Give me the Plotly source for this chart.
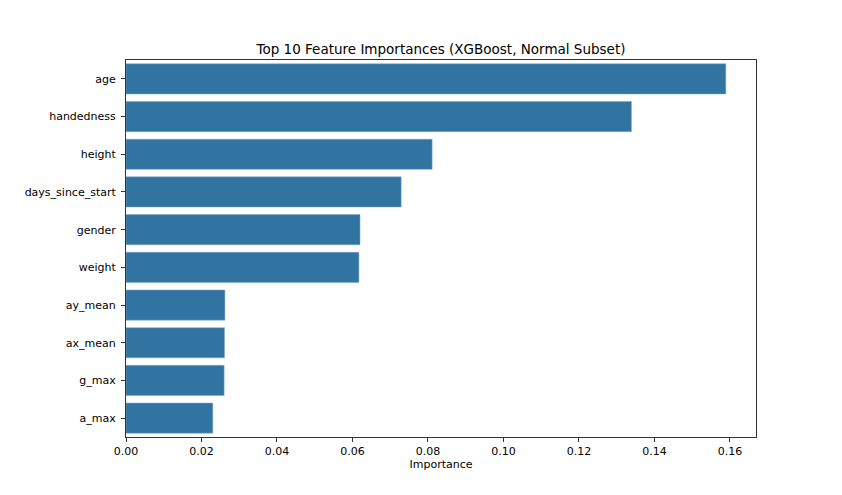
import plotly.graph_objects as go

features = ["age", "handedness", "height", "days_since_start", "gender",
            "weight", "ay_mean", "ax_mean", "g_max", "a_max"]
importances = [0.1589, 0.1339, 0.0811, 0.0729, 0.0620,
               0.0617, 0.0262, 0.0261, 0.0260, 0.0230]
x_ticks = [0.00, 0.02, 0.04, 0.06, 0.08, 0.10, 0.12, 0.14, 0.16]

FONT = "DejaVu Sans"

fig = go.Figure(go.Bar(
    x=importances,
    y=features,
    orientation="h",
    width=0.8,
    marker=dict(color="#3274a1", line=dict(color="#7ea6c4", width=0.5)),
))

fig.update_layout(
    width=834, height=487,
    margin=dict(l=118, r=86, t=52, b=58),
    paper_bgcolor="white", plot_bgcolor="white",
    font=dict(family=FONT, size=11, color="black"),
    showlegend=False,
    title=dict(text="Top 10 Feature Importances (XGBoost, Normal Subset)",
               x=0.5, xref="paper", xanchor="center",
               y=1, yref="paper", yanchor="bottom", pad=dict(b=6),
               font=dict(family=FONT, size=13.5, color="black")),
)
fig.update_xaxes(
    range=[0, 0.1669],
    tickvals=x_ticks,
    ticktext=[f"{v:.2f}" for v in x_ticks],
    showgrid=False, zeroline=False,
    showline=True, linecolor="#333333", linewidth=1, mirror=True,
    ticks="outside", ticklen=4, tickcolor="#333333",
    title=dict(text="Importance", standoff=3, font=dict(size=11)),
)
fig.update_yaxes(
    categoryorder="array", categoryarray=features,
    range=[9.5, -0.5],
    showgrid=False, zeroline=False,
    showline=True, linecolor="#333333", linewidth=1, mirror=True,
    ticks="outside", ticklen=4, tickcolor="#333333",
    ticklabelstandoff=3,
)

fig.write_html("out.html")
